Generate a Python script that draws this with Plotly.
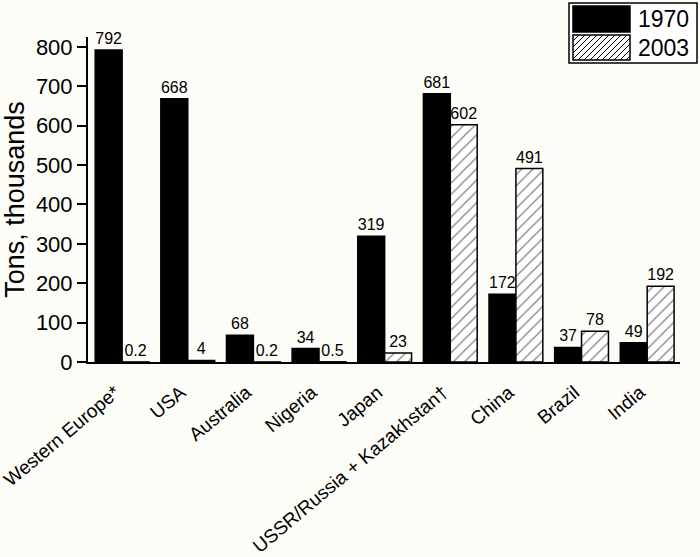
import plotly.graph_objects as go

categories = ["Western Europe*", "USA", "Australia", "Nigeria", "Japan",
              "USSR/Russia + Kazakhstan†", "China", "Brazil", "India"]
values_1970 = [792, 668, 68, 34, 319, 681, 172, 37, 49]
values_2003 = [0.2, 4, 0.2, 0.5, 23, 602, 491, 78, 192]
labels_1970 = ["792", "668", "68", "34", "319", "681", "172", "37", "49"]
labels_2003 = ["0.2", "4", "0.2", "0.5", "23", "602", "491", "78", "192"]
y_ticks = [0, 100, 200, 300, 400, 500, 600, 700, 800]

FONT = "Arial, Liberation Sans, Helvetica, sans-serif"
BG = "#fdfdf8"

fig = go.Figure()
fig.add_trace(go.Bar(
    x=categories, y=values_1970, name="1970",
    marker=dict(color="black", line=dict(color="black", width=1.5)),
    text=labels_1970, textposition="outside", cliponaxis=False,
    textfont=dict(family=FONT, size=16, color="black"),
))
fig.add_trace(go.Bar(
    x=categories, y=values_2003, name="2003",
    marker=dict(color="white", line=dict(color="black", width=1.5),
                pattern=dict(shape="/", fgcolor="black", bgcolor="white",
                             size=8, solidity=0.15)),
    text=labels_2003, textposition="outside", cliponaxis=False,
    textfont=dict(family=FONT, size=16, color="black"),
))

# Plot area in pixels
L, R, T, B = 88, 680, 37, 362
W_PX, H_PX = 700, 557


def px2paper_x(px):
    return (px - L) / (R - L)


def px2paper_y(py):
    return (B - py) / (B - T)


shapes = []
# legend box
shapes.append(dict(type="rect", xref="paper", yref="paper",
                   x0=px2paper_x(569), x1=px2paper_x(697),
                   y0=px2paper_y(63), y1=px2paper_y(3),
                   line=dict(color="black", width=1.5), fillcolor="white", layer="above"))
# black swatch
shapes.append(dict(type="rect", xref="paper", yref="paper",
                   x0=px2paper_x(573), x1=px2paper_x(630),
                   y0=px2paper_y(32), y1=px2paper_y(6),
                   line=dict(color="black", width=1.5), fillcolor="black", layer="above"))
# hatched swatch
sx0, sx1, sy0, sy1 = 573, 630, 35, 60
shapes.append(dict(type="rect", xref="paper", yref="paper",
                   x0=px2paper_x(sx0), x1=px2paper_x(sx1),
                   y0=px2paper_y(sy1), y1=px2paper_y(sy0),
                   line=dict(color="black", width=1.5), fillcolor="white", layer="above"))
step = 6
w, h = sx1 - sx0, sy1 - sy0
c = -h
while c < w:
    u0 = max(0, c)
    u1 = min(w, c + h)
    if u1 > u0:
        v0, v1 = u0 - c, u1 - c
        shapes.append(dict(type="line", xref="paper", yref="paper",
                           x0=px2paper_x(sx0 + u0), y0=px2paper_y(sy1 - v0),
                           x1=px2paper_x(sx0 + u1), y1=px2paper_y(sy1 - v1),
                           line=dict(color="black", width=1), layer="above"))
    c += step

annotations = [
    dict(text="1970", xref="paper", yref="paper", x=px2paper_x(636), y=px2paper_y(19),
         xanchor="left", yanchor="middle", showarrow=False,
         font=dict(family=FONT, size=23, color="black")),
    dict(text="2003", xref="paper", yref="paper", x=px2paper_x(636), y=px2paper_y(48),
         xanchor="left", yanchor="middle", showarrow=False,
         font=dict(family=FONT, size=23, color="black")),
]

fig.update_layout(
    width=W_PX, height=H_PX,
    margin=dict(l=L, r=W_PX - R, t=T, b=H_PX - B),
    paper_bgcolor=BG, plot_bgcolor=BG,
    barmode="group", bargap=0.18, bargroupgap=0,
    showlegend=False,
    font=dict(family=FONT, color="black"),
    shapes=shapes, annotations=annotations,
)
fig.update_xaxes(
    range=[-0.52, 8.5], tickangle=-40, showgrid=False, zeroline=False,
    showline=True, linecolor="black", linewidth=2, automargin=False,
    ticks="outside", ticklen=10, tickcolor=BG, tickwidth=0.1,
    ticklabelshift=-7,
    tickfont=dict(family=FONT, size=19, color="black"),
)
fig.update_yaxes(
    range=[0, 825], tickvals=y_ticks, ticktext=[str(v) for v in y_ticks],
    showgrid=False, zeroline=False, automargin=False,
    showline=True, linecolor="black", linewidth=2,
    ticks="outside", ticklen=9, tickwidth=1.5, tickcolor="black",
    tickfont=dict(family=FONT, size=22, color="black"),
    title=dict(text="Tons, thousands", font=dict(family=FONT, size=27, color="black"), standoff=8),
)

fig.write_html("out.html", config={"displayModeBar": False},
               post_script="document.body.style.margin='0';document.body.style.background='#fdfdf8';")
